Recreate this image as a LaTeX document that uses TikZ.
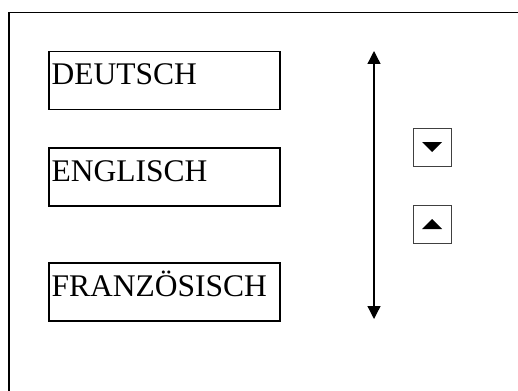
\documentclass[tikz,border=0pt]{standalone}
\usepackage{fontspec}
\setmainfont{Liberation Serif}
\usetikzlibrary{arrows.meta}
\begin{document}
\begin{tikzpicture}[x=1pt,y=-1pt,
  langbox/.style={draw, line width=1.5pt, minimum width=231pt, minimum height=58pt,
    inner sep=0pt, anchor=north west},
  langtext/.style={anchor=base west, inner sep=0pt,
    font=\fontsize{31.5}{36}\selectfont},
  btn/.style={draw=black!75, line width=0.8pt, minimum width=38pt, minimum height=38pt,
    inner sep=0pt},
  tri/.style={fill=black, draw=none}
]
\useasboundingbox (0,0) rectangle (518,390);
% outer window frame (runs off the right and bottom edges)
\draw[line width=1.5pt] (9,392) -- (9,12.5) -- (520,12.5);

% language list entries
\node[langbox] (de) at (48,51) {};
\node[langbox] (en) at (48,147) {};
\node[langbox] (fr) at (48,262) {};
\node[langtext] (detext) at ([xshift=3.5pt,yshift=-34pt]de.north west) {DEUTSCH};
\node[langtext] (entext) at ([xshift=3.5pt,yshift=-34pt]en.north west) {ENGLISCH};
\node[langtext] (frtext) at ([xshift=3.5pt,yshift=-34pt]fr.north west) {FRANZÖSISCH};

% scroll range arrow
\coordinate (stop) at (374,51);
\coordinate (sbot) at (374,319);
\draw[line width=1.3pt, {Triangle[width=13pt,length=13pt]}-{Triangle[width=13pt,length=13pt]}]
  (stop) -- (sbot);

% scroll buttons: down arrow above, up arrow below
\node[btn] (down) at (432,147) {};
\node[btn] (up) at (432,224) {};
\fill[tri] ([xshift=-10pt,yshift=5pt]down.center) -- ([xshift=10pt,yshift=5pt]down.center)
  -- ([yshift=-5pt]down.center) -- cycle;
\fill[tri] ([xshift=-10pt,yshift=-5pt]up.center) -- ([xshift=10pt,yshift=-5pt]up.center)
  -- ([yshift=5pt]up.center) -- cycle;
\end{tikzpicture}
\end{document}
